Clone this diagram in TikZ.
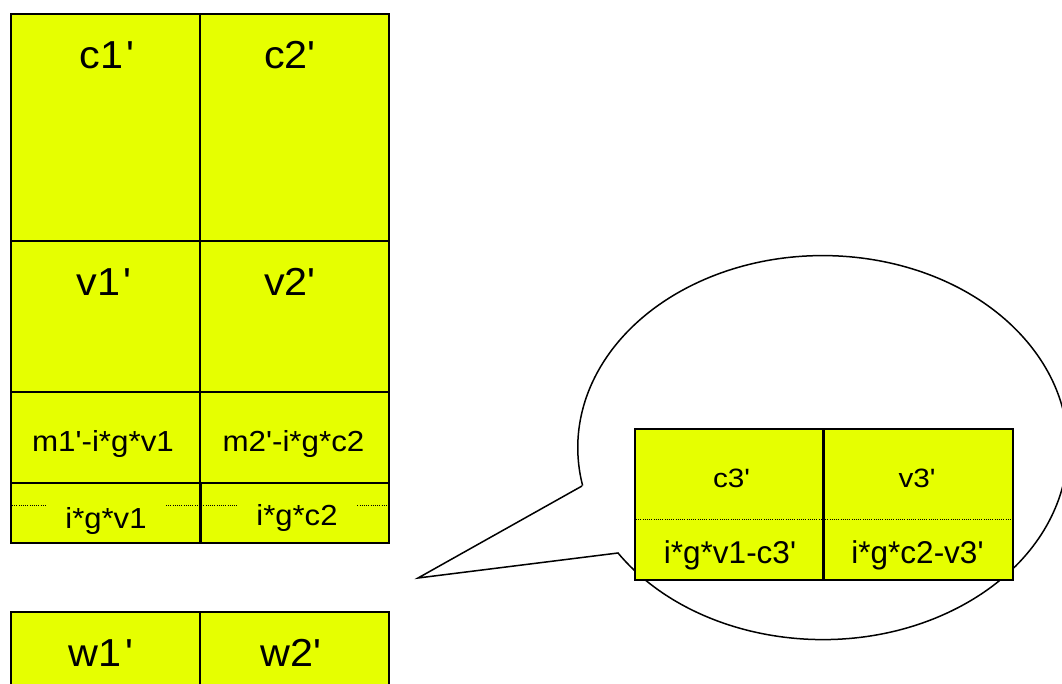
\documentclass[tikz,border=0pt]{standalone}
\usepackage{graphicx}
\usepackage{fontspec}
\setmainfont[Ligatures=TeXOff]{Liberation Sans}
\definecolor{yel}{RGB}{230,255,0}
\newcommand{\sx}[2]{\scalebox{#1}[1]{#2}}
\begin{document}
\begin{tikzpicture}[x=1pt,y=-1pt,
  cell/.style={draw=black, fill=yel, line width=1.8pt, inner sep=0pt, anchor=north west, minimum width=189pt},
  big/.style={anchor=base, inner sep=0pt, font=\fontsize{39}{39}\selectfont},
  mid/.style={anchor=base, inner sep=0pt, font=\fontsize{29}{29}\selectfont},
  midfill/.style={mid, fill=yel, inner xsep=19pt, inner ysep=6pt},
  small/.style={anchor=base, inner sep=0pt, font=\fontsize{26.5}{26.5}\selectfont},
  smallb/.style={anchor=base, inner sep=0pt, font=\fontsize{31.5}{31.5}\selectfont},
  dotline/.style={line width=1pt, dash pattern=on 1pt off 1.2pt},
  bubble/.style={draw=black, line width=1.5pt}]
\useasboundingbox (0,0) rectangle (1062,684);

% left grid
\node[cell, minimum height=227pt] (c1) at (10,13) {};
\node[cell, minimum height=227pt] (c2) at (199,13) {};
\node[cell, minimum height=151pt] (v1) at (10,240) {};
\node[cell, minimum height=151pt] (v2) at (199,240) {};
\node[cell, minimum height=91pt] (m1) at (10,391) {};
\node[cell, minimum height=91pt] (m2) at (199,391) {};
\node[cell, minimum height=60pt] (i1) at (10,482) {};
\node[cell, minimum height=60pt] (i2) at (199,482) {};

% bottom row
\node[cell, minimum height=110pt] (w1) at (10,611) {};
\node[cell, minimum height=110pt] (w2) at (199,611) {};

% dotted line in the i row
\coordinate (dl) at (12,505);
\coordinate (dr) at (387,505);
\draw[dotline] (dl) -- (dr);

% texts
\node[big] (tc1) at (107,69) {\sx{1.06}{c1\hspace{3.5pt}'}};
\node[big] (tc2) at (290,69) {\sx{1.06}{c2'}};
\node[big] (tv1) at (104,296) {\sx{1.06}{v1\hspace{3.5pt}'}};
\node[big] (tv2) at (290,296) {\sx{1.06}{v2'}};
\node[big] (tw1) at (101,666) {\sx{1.06}{w1\hspace{3.5pt}'}};
\node[big] (tw2) at (291,666) {\sx{1.06}{w2'}};
\node[mid] (tm1) at (103,451) {\sx{1.08}{m1'-i*g*v1}};
\node[mid] (tm2) at (293.5,451) {\sx{1.08}{m2'-i*g*c2}};
\node[midfill] (ti1) at (106,528) {\sx{1.07}{i*g*v1}};
\node[midfill] (ti2) at (297,525) {\sx{1.07}{i*g*c2}};
\draw[line width=1.8pt] (i1.north east) -- (i1.south east);

% callout bubble
\coordinate (p1) at (582,486);
\coordinate (tip) at (418,578);
\coordinate (p2) at (618,553);
\draw[bubble] (p1) -- (tip) -- (p2) arc[start angle=146.7, end angle=-191.4, x radius=245, y radius=192];

% inner box
\node[cell, minimum height=151pt] (c3) at (634,428) {};
\node[cell, minimum height=151pt] (v3) at (823,428) {};
\coordinate (el) at (636,519);
\coordinate (er) at (1011,519);
\draw[dotline] (el) -- (er);
\draw[line width=1.8pt] (v3.north west) -- (v3.south west);
\node[small] (tc3) at (731.5,487) {\sx{1.12}{c3'}};
\node[small] (tv3) at (917,487) {\sx{1.12}{v3'}};
\node[smallb] (tc3b) at (730,563) {i*g*v1-c3'};
\node[smallb] (tv3b) at (917.5,563) {i*g*c2-v3'};
\end{tikzpicture}
\end{document}
